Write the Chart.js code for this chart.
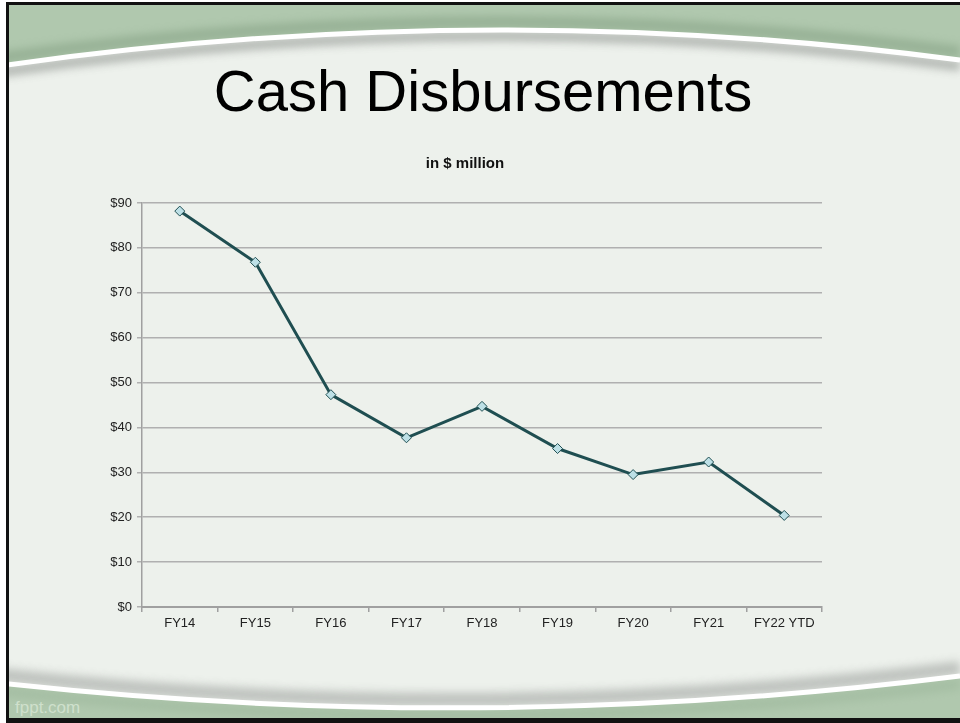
<!DOCTYPE html>
<html>
<head>
<meta charset="utf-8">
<script src="https://cdn.jsdelivr.net/npm/chart.js@4.4.1/dist/chart.umd.min.js"></script>
<style>
  body { margin: 0; width: 960px; height: 723px; overflow: hidden; background: #fff; font-family: "Liberation Sans", Arial, sans-serif; }
  #bg { position: absolute; left: 0; top: 0; }
  #slideTitle { position: absolute; left: 0; top: 57px; width: 966px; text-align: center; font-size: 58px; color: #000; line-height: normal; }
  #wrap { position: absolute; left: 0; top: 0; width: 960px; height: 723px; }
</style>
</head>
<body>
<svg id="bg" width="960" height="723">
  <defs>
    <filter id="blur" filterUnits="userSpaceOnUse" x="0" y="0" width="960" height="723"><feGaussianBlur stdDeviation="4"/></filter>
    <clipPath id="inner"><rect x="9" y="5" width="951" height="713"/></clipPath>
    <clipPath id="content"><path d="M0,66 Q480,-3 960,60 L960,676 Q480,736 0,683 Z"/></clipPath>
  </defs>
  <rect width="960" height="723" fill="#fff"/>
  <rect x="6" y="2" width="960" height="721" fill="#111"/>
  <g clip-path="url(#inner)">
    <rect x="0" y="0" width="960" height="723" fill="#b0c8ae"/>
    <!-- darker green near the swooshes -->
    <path d="M0,66 Q480,-3 960,60" transform="translate(0,-8)" stroke="#7f9b7e" stroke-width="12" fill="none" opacity="0.5" filter="url(#blur)"/>
    <path d="M0,683 Q480,736 960,676" transform="translate(0,8)" stroke="#90ab8f" stroke-width="10" fill="none" opacity="0.35" filter="url(#blur)"/>
    <path d="M0,66 Q480,-3 960,60 L960,676 Q480,736 0,683 Z" fill="#edf1ec"/>
    <g clip-path="url(#content)">
      <path d="M0,66 Q480,-3 960,60" transform="translate(0,6)" stroke="#a3a7a3" stroke-width="10" fill="none" opacity="0.8" filter="url(#blur)"/>
      <path d="M0,683 Q480,736 960,676" transform="translate(0,-8)" stroke="#b4b8b4" stroke-width="14" fill="none" opacity="0.8" filter="url(#blur)"/>
    </g>
    <path d="M0,66 Q480,-3 960,60" stroke="#fff" stroke-width="5" fill="none"/>
    <path d="M0,683 Q480,736 960,676" stroke="#fff" stroke-width="5" fill="none"/>
    <text x="15" y="713" font-family="Liberation Sans, Arial, sans-serif" font-size="17" fill="#cfe0cc">fppt.com</text>
  </g>
</svg>
<div id="slideTitle">Cash Disbursements</div>
<div id="wrap"><canvas id="chart"></canvas></div>
<script>
// data
var categories = ['FY14', 'FY15', 'FY16', 'FY17', 'FY18', 'FY19', 'FY20', 'FY21', 'FY22 YTD'];
var disbursements = [88.2, 76.8, 47.3, 37.7, 44.7, 35.3, 29.5, 32.3, 20.4];
var yMin = 0;
var yMax = 90;
var yStep = 10;
var chartTitle = 'in $ million';

Chart.defaults.font.family = '"Liberation Sans", Arial, sans-serif';
Chart.defaults.color = '#222';

var ctx = document.getElementById('chart').getContext('2d');
var myChart = new Chart(ctx, {
    type: 'line',
    data: {
        labels: categories,
        datasets: [{
            label: 'Cash Disbursements',
            data: disbursements,
            borderColor: '#1f4e51',
            borderWidth: 3,
            tension: 0,
            pointStyle: 'rectRot',
            pointRadius: 5,
            pointBackgroundColor: '#bde0e6',
            pointBorderColor: '#1f4e51',
            pointBorderWidth: 1
        }]
    },
    options: {
        responsive: true,
        maintainAspectRatio: false,
        animation: false,
        layout: {
            padding: { left: 108, right: 138, top: 155, bottom: 86 }
        },
        plugins: {
            legend: { display: false },
            tooltip: { enabled: false },
            title: {
                display: true,
                text: chartTitle,
                color: '#111',
                font: { size: 15, weight: 'bold' },
                padding: { top: 0, bottom: 30 }
            }
        },
        scales: {
            x: {
                offset: true,
                afterFit: function (scale) { scale.height = 30; },
                grid: {
                    offset: true,
                    drawOnChartArea: false,
                    drawTicks: true,
                    tickLength: 5,
                    color: '#a0a0a0',
                    lineWidth: 1.5
                },
                border: { color: '#a0a0a0', width: 2 },
                ticks: { padding: 4, font: { size: 13 }, color: '#222' }
            },
            y: {
                min: yMin,
                max: yMax,
                afterFit: function (scale) { scale.width = 34; },
                grid: {
                    color: '#b0b0b0',
                    lineWidth: 1.5,
                    drawTicks: true,
                    tickLength: 5
                },
                border: { color: '#a0a0a0', width: 1.5 },
                ticks: {
                    stepSize: yStep,
                    padding: 5,
                    font: { size: 13 },
                    color: '#222',
                    callback: function (v) { return '$' + v; }
                }
            }
        }
    }
});
</script>
</body>
</html>
